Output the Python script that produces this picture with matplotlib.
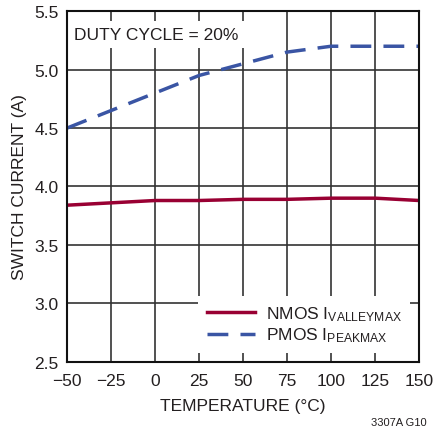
import matplotlib
matplotlib.use('Agg')
import matplotlib.pyplot as plt
from matplotlib import font_manager

names = {f.name for f in font_manager.fontManager.ttflist}
fam = 'Liberation Sans Narrow' if 'Liberation Sans Narrow' in names else 'Liberation Sans'
plt.rcParams['font.family'] = [fam, 'DejaVu Sans']
plt.rcParams['mathtext.fontset'] = 'custom'
plt.rcParams['mathtext.rm'] = fam
plt.rcParams['mathtext.it'] = fam
plt.rcParams['axes.unicode_minus'] = True

temp = [-50, -25, 0, 25, 50, 75, 100, 125, 150]
nmos = [3.84, 3.86, 3.88, 3.88, 3.89, 3.89, 3.90, 3.90, 3.88]
pmos = [4.50, 4.65, 4.80, 4.95, 5.05, 5.15, 5.20, 5.20, 5.20]
xticks = [-50, -25, 0, 25, 50, 75, 100, 125, 150]
xlabels = ['\u221250', '\u221225', '0', '25', '50', '75', '100', '125', '150']
yticks = [2.5, 3.0, 3.5, 4.0, 4.5, 5.0, 5.5]

fs = 12.5
fig = plt.figure(figsize=(4.33, 4.35), dpi=100)
ax = fig.add_axes([0.155, 0.166, 0.813, 0.806])

ax.plot(temp, nmos, color='#990033', lw=2.5, label=r'NMOS I$_{\mathrm{VALLEYMAX}}$')
ax.plot(temp, pmos, color='#3a55a4', lw=2.5, dashes=(6, 3.5), label=r'PMOS I$_{\mathrm{PEAKMAX}}$')

ax.set_xlim(-50, 150)
ax.set_ylim(2.5, 5.5)
ax.set_xticks(xticks)
ax.set_xticklabels(xlabels)
ax.set_yticks(yticks)
ax.set_yticklabels(['%.1f' % v for v in yticks])
ax.tick_params(length=0, labelsize=fs, colors='#231f20')
ax.tick_params(axis='x', pad=8)
ax.tick_params(axis='y', pad=6)
ax.grid(True, color='#333333', lw=1.2)
ax.set_axisbelow(True)
for s in ax.spines.values():
    s.set_linewidth(1.5)
    s.set_color('#111111')

ax.set_xlabel('TEMPERATURE (\u00b0C)', fontsize=fs, color='#231f20', labelpad=7)
ax.set_ylabel('SWITCH CURRENT (A)', fontsize=fs, color='#231f20', labelpad=5)

ax.text(-46, 5.30, 'DUTY CYCLE = 20%', fontsize=fs, color='#231f20', va='center',
        bbox=dict(facecolor='white', edgecolor='none', pad=4))

leg = ax.legend(loc='lower right', bbox_to_anchor=(1.0, 0.0), fontsize=fs,
                frameon=True, fancybox=False, edgecolor='none', framealpha=1,
                handlelength=2.8, borderpad=0.5, labelspacing=0.15, handletextpad=0.6)
for t in leg.get_texts():
    t.set_color('#231f20')

fig.text(0.985, 0.02, '3307A G10', fontsize=8, ha='right', color='#231f20')

fig.savefig('out.png', dpi=100)
